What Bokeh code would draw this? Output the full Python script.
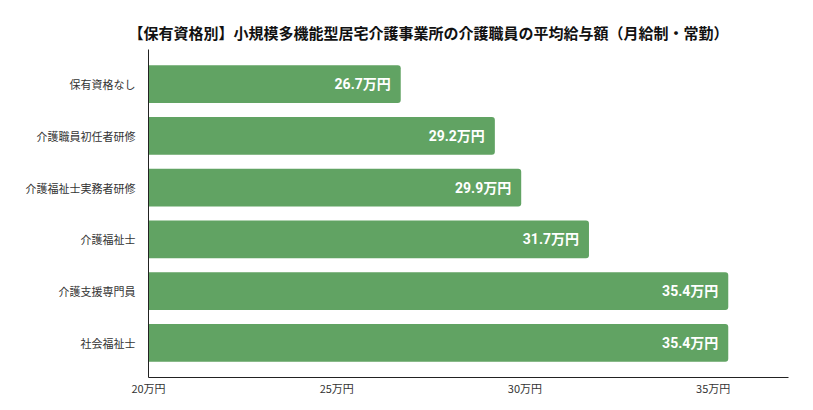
from bokeh.plotting import figure
from bokeh.models import Range1d, FixedTicker
from bokeh.core.properties import value
from bokeh.embed import file_html
from bokeh.resources import INLINE

# data (top to bottom as shown)
categories = ['保有資格なし', '介護職員初任者研修', '介護福祉士実務者研修',
              '介護福祉士', '介護支援専門員', '社会福祉士']
salaries = [26.7, 29.2, 29.9, 31.7, 35.4, 35.4]
x_ticks = [20, 25, 30, 35]
x_tick_labels = ['20万円', '25万円', '30万円', '35万円']

n = len(categories)
ys = [n - 1 - i for i in range(n)]
labels = ['{}万円'.format(v) for v in salaries]

JP = "'Noto Sans CJK JP', sans-serif"

p = figure(width=797, height=400, output_backend="svg", toolbar_location=None,
           x_range=Range1d(20, 37), y_range=Range1d(-0.67, n - 1 + 0.67),
           min_border_left=148, min_border_right=9,
           min_border_top=49, min_border_bottom=23)

p.title.text = '【保有資格別】小規模多機能型居宅介護事業所の介護職員の平均給与額（月給制・常勤）'
p.title.align = 'left'
p.title.offset = -20
p.title.standoff = 14
p.title.text_font = JP
p.title.text_font_size = '15px'
p.title.text_font_style = 'bold'
p.title.text_color = '#111111'

p.hbar(y=ys, left=20, right=salaries, height=0.73, fill_color='#61a363',
       line_color=None, border_radius=(0, 3, 3, 0))

p.text(x=salaries, y=ys, text=labels, x_offset=-10, text_align='right',
       text_baseline='middle', text_color='white', text_font_size='14px',
       text_font_style='bold', text_font=value("Roboto, 'Noto Sans CJK JP'"))

p.xgrid.visible = False
p.ygrid.visible = False
p.outline_line_color = None

p.xaxis.ticker = FixedTicker(ticks=x_ticks)
p.xaxis.major_label_overrides = dict(zip(x_ticks, x_tick_labels))
p.yaxis.ticker = FixedTicker(ticks=ys)
p.yaxis.major_label_overrides = dict(zip(ys, categories))

for ax in (p.xaxis, p.yaxis):
    ax.major_tick_line_color = None
    ax.minor_tick_line_color = None
    ax.axis_line_color = '#222222'
    ax.major_label_text_font = JP
    ax.major_label_text_font_size = '11px'
    ax.major_label_text_color = '#333333'
    ax.major_label_standoff = 7
p.xaxis.major_label_standoff = -4

open("out.html", "w").write(file_html(p, INLINE))
